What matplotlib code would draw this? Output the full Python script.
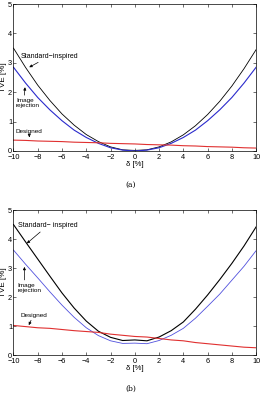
import matplotlib
matplotlib.use("Agg")
import matplotlib.pyplot as plt

# delta [%] sample points
delta = [-10, -9, -8, -7, -6, -5, -4, -3, -2, -1, 0, 1, 2, 3, 4, 5, 6, 7, 8, 9, 10]

# (a) TVE [%]
std_a = [3.50, 2.84, 2.24, 1.72, 1.26, 0.88, 0.56, 0.32, 0.14, 0.04, 0.02,
         0.04, 0.14, 0.31, 0.55, 0.86, 1.24, 1.69, 2.21, 2.80, 3.45]
img_a = [2.85, 2.31, 1.82, 1.40, 1.03, 0.71, 0.46, 0.26, 0.11, 0.03, 0.00,
         0.03, 0.11, 0.26, 0.46, 0.71, 1.03, 1.40, 1.82, 2.31, 2.85]
des_a = [0.37, 0.36, 0.34, 0.33, 0.32, 0.30, 0.29, 0.28, 0.26, 0.25, 0.24,
         0.22, 0.21, 0.20, 0.18, 0.17, 0.15, 0.14, 0.13, 0.11, 0.10]

# (b) TVE [%]
std_b = [4.50, 3.90, 3.31, 2.72, 2.14, 1.62, 1.17, 0.82, 0.61, 0.50, 0.52,
         0.49, 0.62, 0.84, 1.14, 1.58, 2.07, 2.60, 3.16, 3.76, 4.42]
img_b = [3.62, 3.13, 2.66, 2.18, 1.72, 1.30, 0.94, 0.67, 0.49, 0.40, 0.41,
         0.39, 0.50, 0.68, 0.92, 1.27, 1.68, 2.10, 2.58, 3.06, 3.60]
des_b = [1.02, 0.98, 0.94, 0.92, 0.88, 0.84, 0.81, 0.78, 0.72, 0.68, 0.64,
         0.62, 0.57, 0.52, 0.49, 0.43, 0.39, 0.35, 0.31, 0.27, 0.25]

plt.rcParams["font.family"] = ["Liberation Sans", "DejaVu Sans"]

fig = plt.figure(figsize=(2.62, 3.96), dpi=100)
ax_a = fig.add_axes([0.0515, 0.6187, 0.926, 0.371])
ax_b = fig.add_axes([0.0515, 0.1035, 0.926, 0.366])

arrow = dict(arrowstyle="-|>", color="black", lw=0.5, mutation_scale=4,
             shrinkA=0, shrinkB=0)
fs = 5.3


def setup(ax):
    ax.set_xlim(-10, 10)
    ax.set_ylim(0, 5)
    ax.set_xticks(range(-10, 11, 2))
    ax.set_yticks(range(0, 6))
    ax.set_xticklabels([str(t).replace("-", "\u2212") for t in range(-10, 11, 2)])
    ax.tick_params(direction="in", top=True, right=True, length=2, width=0.4,
                   labelsize=fs, pad=1)
    ax.tick_params(axis="x", pad=2)
    for s in ax.spines.values():
        s.set_linewidth(0.5)
    ax.set_xlabel("\u03b4 [%]", fontsize=5.6, labelpad=0)
    ax.set_ylabel("TVE [%]", fontsize=5.8, labelpad=1)


# (a)
ax_a.plot(delta, std_a, color="black", lw=0.6)
ax_a.plot(delta, img_a, color="#2a2acc", lw=0.8)
ax_a.plot(delta, des_a, color="#e03030", lw=0.8)
setup(ax_a)
ax_a.annotate("Standard\u2212inspired", xy=(-8.7, 2.85), xytext=(-9.4, 3.23),
              fontsize=5, va="center", arrowprops=arrow)
ax_a.text(-9.8, 1.63, "Image\nrejection", fontsize=4.6, va="center",
          linespacing=1.1)
ax_a.annotate("", xy=(-9.05, 2.17), xytext=(-9.1, 1.9), arrowprops=arrow)
ax_a.annotate("Designed", xy=(-8.7, 0.47), xytext=(-9.8, 0.68),
              fontsize=4.6, va="center", arrowprops=arrow)
fig.text(0.5, 1 - 185 / 396, "(a)", ha="center", va="center", fontsize=5.5,
         family="DejaVu Serif")

# (b)
ax_b.plot(delta, std_b, color="black", lw=0.8)
ax_b.plot(delta, img_b, color="#5050dd", lw=0.6)
ax_b.plot(delta, des_b, color="#e03030", lw=0.8)
setup(ax_b)
ax_b.annotate("Standard\u2212 inspired", xy=(-8.9, 3.85), xytext=(-9.65, 4.46),
              fontsize=5, va="center", arrowprops=arrow)
ax_b.text(-9.65, 2.31, "Image\nrejection", fontsize=4.6, va="center",
          linespacing=1.1)
ax_b.annotate("", xy=(-9.1, 3.04), xytext=(-9.1, 2.59), arrowprops=arrow)
ax_b.annotate("Designed", xy=(-8.74, 1.03), xytext=(-9.45, 1.38),
              fontsize=4.6, va="center", arrowprops=arrow)
fig.text(0.5, 1 - 389 / 396, "(b)", ha="center", va="center", fontsize=5.5,
         family="DejaVu Serif")

fig.savefig("out.png", dpi=100)
